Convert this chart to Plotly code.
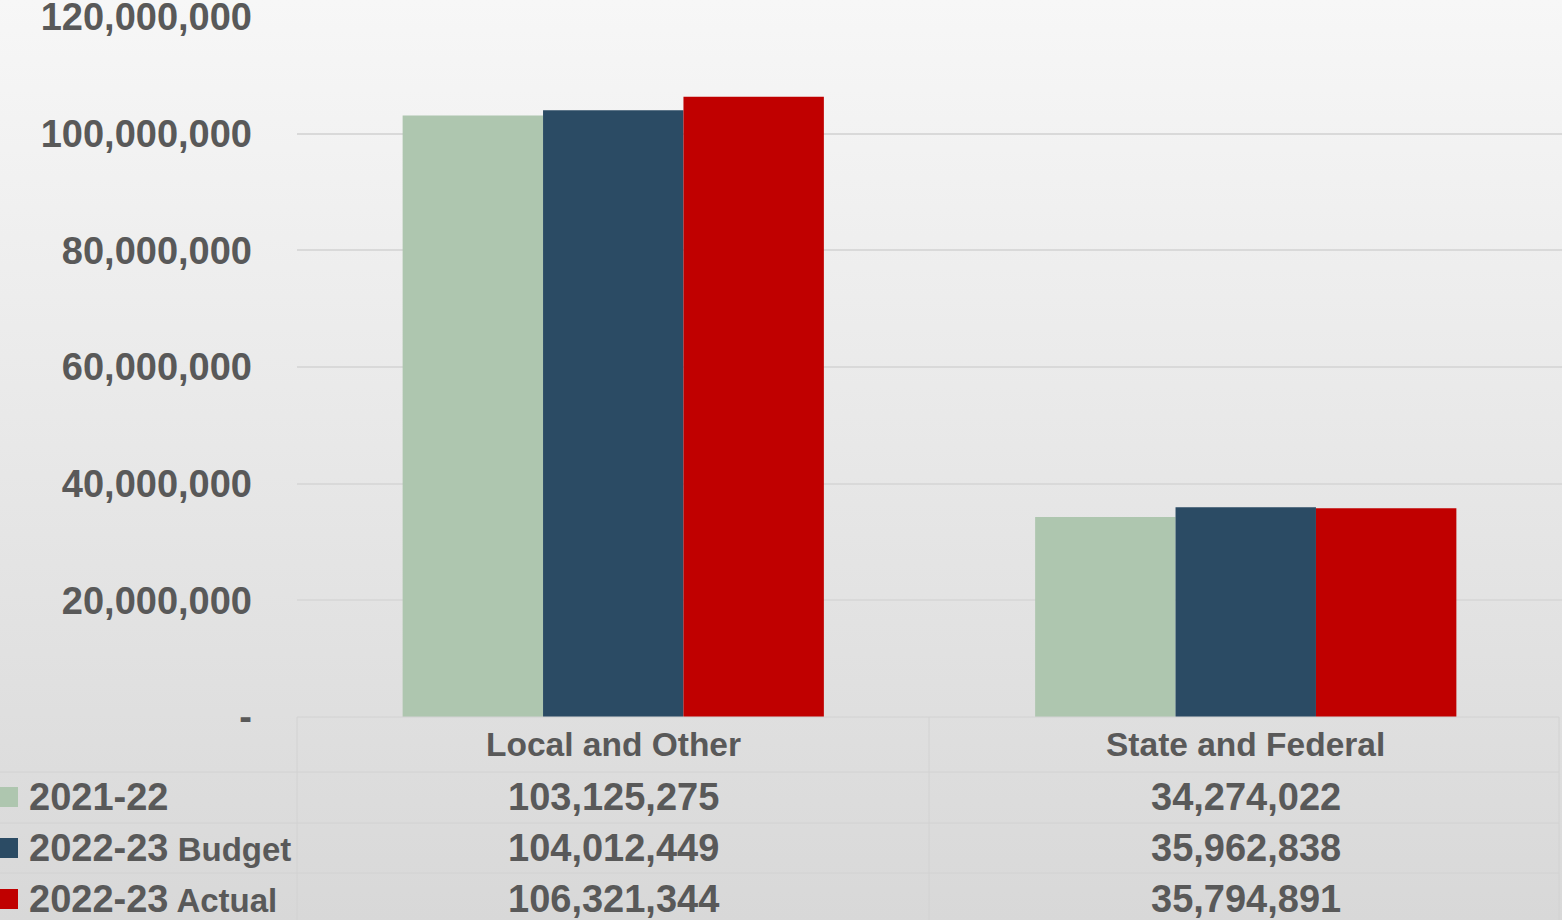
import base64
import plotly.graph_objects as go

categories = ["Local and Other", "State and Federal"]
series_names = ["2021-22", "2022-23 Budget", "2022-23 Actual"]
values_2021_22 = [103125275, 34274022]
values_2022_23_budget = [104012449, 35962838]
values_2022_23_actual = [106321344, 35794891]
series_values = [values_2021_22, values_2022_23_budget, values_2022_23_actual]
series_colors = ["#AEC6AF", "#2B4B64", "#C00000"]
y_tickvals = [0, 20000000, 40000000, 60000000, 80000000, 100000000, 120000000]
y_ticktext = ["-" if v == 0 else f"{v:,}" for v in y_tickvals]

W, H = 1562, 920
TXT = "#595959"
FONT = "Liberation Sans"
FS_TXT = 33.5
FS_NUM = 38

def px_x(p):
    return p / W

def px_y(p):
    return (H - p) / H

def mixed(label):
    parts = label.split(" ", 1)
    s = f"<span style='font-size:{FS_NUM}px'>{parts[0]}</span>"
    if len(parts) > 1:
        s += f"<span style='font-size:33px'> {parts[1]}</span>"
    return s

fig = go.Figure()
for name, vals, col in zip(series_names, series_values, series_colors):
    fig.add_trace(go.Bar(x=categories, y=vals, name=name, marker=dict(color=col, line=dict(width=0)),
                         hoverinfo="skip"))

svg = ('<svg xmlns="http://www.w3.org/2000/svg" width="10" height="100" preserveAspectRatio="none">'
       '<defs><linearGradient id="g" x1="0" y1="0" x2="0" y2="1">'
       '<stop offset="0" stop-color="#f7f7f7"/><stop offset="1" stop-color="#d8d8d8"/>'
       '</linearGradient></defs><rect width="10" height="100" fill="url(#g)"/></svg>')
src = "data:image/svg+xml;base64," + base64.b64encode(svg.encode()).decode()

shapes = []
line_col = "#d2d2d2"
shapes.append(dict(type="line", xref="paper", yref="paper", x0=px_x(297), x1=px_x(1559), y0=px_y(717), y1=px_y(717), line=dict(color=line_col, width=1)))
for yy in [772, 823, 873]:
    shapes.append(dict(type="line", xref="paper", yref="paper", x0=0, x1=px_x(1559), y0=px_y(yy), y1=px_y(yy), line=dict(color=line_col, width=1)))
for xx in [297, 929, 1559]:
    shapes.append(dict(type="line", xref="paper", yref="paper", x0=px_x(xx), x1=px_x(xx), y0=px_y(717), y1=0, line=dict(color=line_col, width=1)))

annotations = []
header_y = 745
row_ys = [797, 848, 899]
for cat in categories:
    annotations.append(dict(x=cat, xref="x", y=px_y(header_y), yref="paper", text=cat, showarrow=False,
                            xanchor="center", yanchor="middle", font=dict(family=FONT, size=FS_TXT, color=TXT, weight="bold")))
for name, vals, col, ry in zip(series_names, series_values, series_colors, row_ys):
    shapes.append(dict(type="rect", xref="paper", yref="paper", x0=0, x1=px_x(18), y0=px_y(ry + 10), y1=px_y(ry - 10),
                       fillcolor=col, line=dict(width=0)))
    annotations.append(dict(x=px_x(27), xref="paper", y=px_y(ry), yref="paper", text=mixed(name), showarrow=False,
                            xanchor="left", yanchor="middle", font=dict(family=FONT, size=FS_NUM, color=TXT, weight="bold")))
    for cat, v in zip(categories, vals):
        annotations.append(dict(x=cat, xref="x", y=px_y(ry), yref="paper", text=f"{v:,}", showarrow=False,
                                xanchor="center", yanchor="middle", font=dict(family=FONT, size=FS_NUM, color=TXT, weight="bold")))

fig.update_layout(
    width=W, height=H,
    margin=dict(l=0, r=0, t=0, b=0, autoexpand=False),
    paper_bgcolor="rgba(0,0,0,0)",
    plot_bgcolor="rgba(0,0,0,0)",
    barmode="group",
    bargap=0.334,
    bargroupgap=0,
    showlegend=False,
    hovermode=False,
    font=dict(family=FONT, size=FS_TXT, color=TXT, weight="bold"),
    images=[dict(source=src, xref="paper", yref="paper", x=0, y=1, sizex=1, sizey=1,
                 xanchor="left", yanchor="top", sizing="stretch", layer="below")],
    shapes=shapes,
    annotations=annotations,
    xaxis=dict(domain=[px_x(297), 1], showticklabels=False, showgrid=False, showline=False, zeroline=False,
               ticks="", automargin=False),
    yaxis=dict(domain=[px_y(717), px_y(17)], range=[0, 120000000], tickvals=y_tickvals, ticktext=y_ticktext,
               showgrid=True, gridcolor="#d9d9d9", gridwidth=1.5, zeroline=False, showline=False, ticks="",
               ticklabelstandoff=44, ticklabeloverflow="allow", automargin=False,
               tickfont=dict(family=FONT, size=FS_NUM, color=TXT, weight="bold")),
)

fig.write_html("out.html", config={"displayModeBar": False},
               post_script=["document.body.style.margin='0px';document.body.style.overflow='hidden';"])
